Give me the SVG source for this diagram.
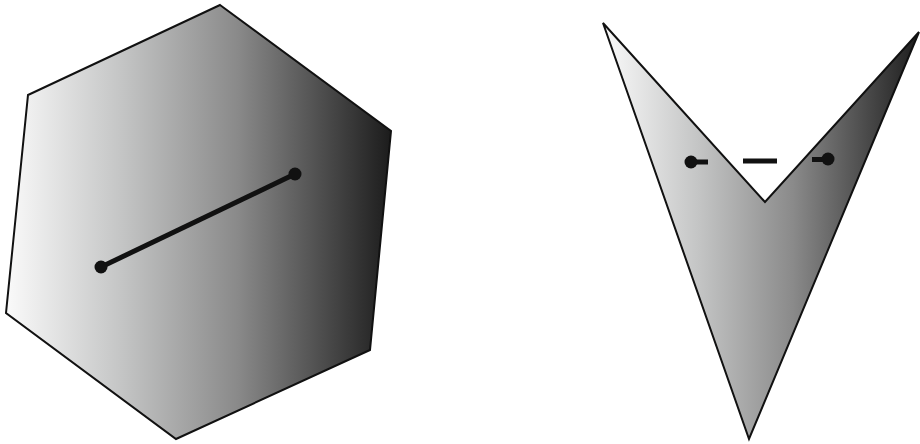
<svg xmlns="http://www.w3.org/2000/svg" width="920" height="444" viewBox="0 0 920 444">
<defs>
<linearGradient id="g1" gradientUnits="userSpaceOnUse" x1="6" y1="0" x2="391" y2="0">
<stop offset="0" stop-color="#fafafa"/>
<stop offset="0.3" stop-color="#c4c5c5"/>
<stop offset="0.6" stop-color="#8a8a8a"/>
<stop offset="1" stop-color="#1c1c1c"/>
</linearGradient>
<linearGradient id="g2" gradientUnits="userSpaceOnUse" x1="603" y1="0" x2="920" y2="0">
<stop offset="0" stop-color="#fafafa"/>
<stop offset="0.3" stop-color="#c4c5c5"/>
<stop offset="0.6" stop-color="#8a8a8a"/>
<stop offset="1" stop-color="#1c1c1c"/>
</linearGradient>
</defs>
<style>
.shape{stroke:#111;stroke-width:2;stroke-linejoin:miter}
.seg{stroke:#111;stroke-width:5;fill:none}
.dot{fill:#111}
</style>
<g id="convex">
<polygon class="shape" fill="url(#g1)" points="220,5 391,131 370,350 176,439 6,313 28,95"/>
</g>
<g id="nonconvex">
<polygon class="shape" fill="url(#g2)" points="603,23 765,202 919,32 749,439"/>
</g>
<g id="connectors">
<line class="seg" x1="101" y1="267" x2="295" y2="174"/>
<circle class="dot" cx="101" cy="267" r="6.5"/>
<circle class="dot" cx="295" cy="174" r="6.5"/>
<line class="seg" x1="691" y1="162" x2="708" y2="162"/>
<line class="seg" x1="743" y1="161" x2="777" y2="161"/>
<line class="seg" x1="812" y1="159.5" x2="828" y2="159.5"/>
<circle class="dot" cx="691" cy="162" r="6.5"/>
<circle class="dot" cx="828" cy="159" r="6.5"/>
</g>
</svg>
